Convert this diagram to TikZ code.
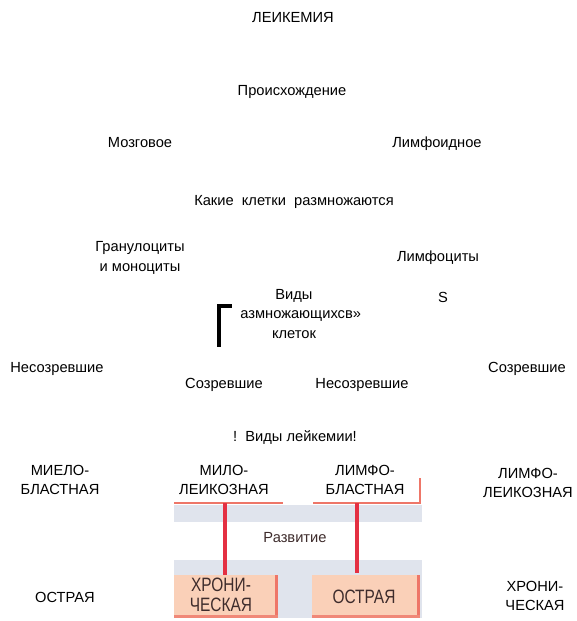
\documentclass[tikz,border=0pt]{standalone}
\usepackage{fontspec}
\setmainfont{Liberation Sans}
\definecolor{bandgrey}{RGB}{224,228,237}
\definecolor{peach}{RGB}{250,208,184}
\definecolor{redline}{RGB}{228,48,66}
\definecolor{redsoft}{RGB}{238,118,104}
\definecolor{boxtext}{RGB}{62,44,44}
\tikzset{
lbl/.style={inner sep=0.75pt, align=center, font=\fontsize{11}{14.5}\selectfont},
boxlbl/.style={inner sep=0.75pt, align=center, text=boxtext, font=\fontsize{14.5}{14.5}\selectfont}}
\tikzset{every picture/.style={line width=0.75pt}}
\begin{document}
\begin{tikzpicture}[x=0.75pt,y=0.75pt,yscale=-1,xscale=1]
\useasboundingbox (0,0) rectangle (576,621);

%Band: background
\fill [bandgrey] (174,505) rectangle (422,618);
\fill [white] (174,522) rectangle (422,560);
%Band: boxes
\fill [peach] (174,575) rectangle (278,618);
\fill [peach] (312,575) rectangle (420,618);
\fill [redsoft] (275,575) rectangle (278,618);
\fill [redsoft] (417,575) rectangle (420,618);
\fill [redsoft!80!peach] (174,615) rectangle (278,618);
\fill [redsoft!80!peach] (312,615) rectangle (420,618);
%Band: frame lines
\draw [redsoft, line width=2pt] (174,503) -- (283,503);
\draw [redsoft, line width=2pt] (313,503) -- (420,503) -- (420,478);
\draw [redline, line width=3pt] (225,503) -- (225,575);
\draw [redline, line width=3pt] (357,503) -- (357,573);

%Black corner mark
\fill [black] (217,304) rectangle (221,347);
\fill [black] (217,304) rectangle (232,308);

% Text Nodes
\node [lbl] (leuk) at (293,18) {ЛЕИКЕМИЯ};
\node [lbl] (orig) at (292,92) {Происхождение};
\node [lbl] (brain) at (140,143) {Мозговое};
\node [lbl] (lymph) at (437,144) {Лимфоидное};
\node [lbl] (which) at (294,202) {Какие\ \ клетки\ \ размножаются};
\node [lbl] (gran) at (140,258) {Гранулоциты\\и моноциты};
\node [lbl] (lymc) at (438,258) {Лимфоциты};
\node [lbl] (kinds) at (294,314) {Виды\\\hspace*{10pt}азмножающихсв»\\клеток};
\node [lbl] (sym) at (443,297) {S};
\node [lbl] (immL) at (57,369) {Несозревшие};
\node [lbl] (matL) at (224,385) {Созревшие};
\node [lbl] (immR) at (362,385) {Несозревшие};
\node [lbl] (matR) at (527,369) {Созревшие};
\node [lbl] (types) at (295,438) {!\ \ Виды лейкемии!};
\node [lbl] (mblast) at (60,480) {МИЕЛО-\\БЛАСТНАЯ};
\node [lbl] (mleuk) at (224,480) {МИЛО-\\ЛЕИКОЗНАЯ};
\node [lbl] (lblast) at (365,480) {ЛИМФО-\\БЛАСТНАЯ};
\node [lbl] (lleuk) at (528,483) {ЛИМФО-\\ЛЕИКОЗНАЯ};
\node [lbl, text=boxtext] (devel) at (295,538) {Развитие};
\node [boxlbl] (chronB) at (221,595) {\scalebox{0.8}[1]{ХРОНИ-}\\\scalebox{0.8}[1]{ЧЕСКАЯ}};
\node [boxlbl] (acuteB) at (364,597) {\scalebox{0.8}[1]{ОСТРАЯ}};
\node [lbl] (acuteL) at (65,597) {ОСТРАЯ};
\node [lbl] (chronR) at (535,596) {ХРОНИ-\\ЧЕСКАЯ};

\end{tikzpicture}
\end{document}
